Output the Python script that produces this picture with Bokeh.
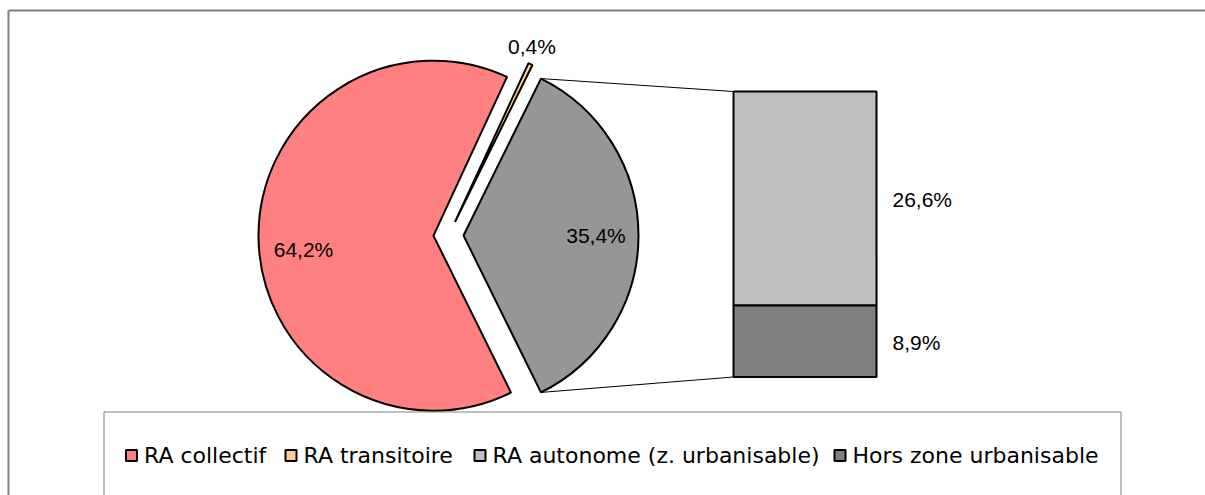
import math
from bokeh.plotting import figure
from bokeh.models import Range1d
from bokeh.core.properties import value
from bokeh.embed import file_html
from bokeh.resources import INLINE

# ---------------- data ----------------
pie_categories = ["RA collectif", "RA transitoire", "RA autonome + Hors zone"]
pie_values = [64.2, 0.4, 35.4]
pie_labels = ["64,2%", "0,4%", "35,4%"]
pie_colors = ["#FF8080", "#FFCC99", "#969696"]

bar_categories = ["RA autonome (z. urbanisable)", "Hors zone urbanisable"]
bar_values = [26.6, 8.9]
bar_labels = ["26,6%", "8,9%"]
bar_colors = ["#C0C0C0", "#808080"]

legend_labels = ["RA collectif", "RA transitoire", "RA autonome (z. urbanisable)", "Hors zone urbanisable"]
legend_colors = ["#FF8080", "#FFCC99", "#C0C0C0", "#808080"]

# ---------------- layout (pixel coordinates, y downward in page space) ----------------
W, H = 1205, 495
CX, CY = 448.0, 235.0
R = 175.0
EXPLODE = 15.0
PIE_LABEL_R = [0.743, 1.1, 0.757]
PIE_LABEL_D = [(0, 12), (-6, -2), (0, 0)]
BAR_LEFT, BAR_RIGHT = 733.0, 876.0
BAR_BOTTOM = 376.5
BAR_HEIGHT = 285.5
LEGEND_X = [131.0, 290.5, 479.5, 839.5]
LEGEND_Y = 455.0
LABEL_FONT = value("Liberation Sans")
LEGEND_FONT = value("DejaVu Sans")

p = figure(width=W, height=H, output_backend="svg", toolbar_location=None,
           x_range=Range1d(0, W), y_range=Range1d(-H, 0),
           x_axis_type=None, y_axis_type=None, min_border=0)
p.grid.visible = False
p.outline_line_color = None
p.background_fill_color = "white"
p.border_fill_color = "white"

def Y(y):
    return -y

# outer chart border (top and left edges visible, rest beyond the window)
p.segment(x0=[8, 8], y0=[Y(10), Y(10)], x1=[5000, 8], y1=[Y(10), Y(5000)],
          line_color="#808080", line_width=2)

# ---------------- pie ----------------
order = [2, 1, 0]  # counterclockwise from the aggregated slice
start = -pie_values[2] / 100.0 * math.pi
slices = {}
for i in order:
    span = pie_values[i] / 100.0 * 2 * math.pi
    a0, a1 = start, start + span
    mid = (a0 + a1) / 2
    ax = CX + EXPLODE * math.cos(mid)
    ay = CY - EXPLODE * math.sin(mid)
    slices[i] = (ax, ay, a0, a1, mid)
    start = a1

for i in [0, 2, 1]:
    ax, ay, a0, a1, mid = slices[i]
    p.wedge(x=[ax], y=[Y(ay)], radius=R, start_angle=[a0], end_angle=[a1],
            fill_color=pie_colors[i], line_color="black", line_width=2)

# pie labels
lx, ly = [], []
for i in range(3):
    ax, ay, a0, a1, mid = slices[i]
    rr = R * PIE_LABEL_R[i]
    lx.append(ax + rr * math.cos(mid) + PIE_LABEL_D[i][0])
    ly.append(Y(ay - rr * math.sin(mid) + PIE_LABEL_D[i][1]))
p.text(x=lx, y=ly, text=pie_labels, text_font=LABEL_FONT, text_font_size="21px",
       text_align="center", text_baseline="alphabetic", text_color="black")

# ---------------- bar ----------------
total = sum(bar_values)
scale = BAR_HEIGHT / total
bottoms, tops = [], []
cur = BAR_BOTTOM
for v in reversed(bar_values):
    bottoms.append(cur)
    tops.append(cur - v * scale)
    cur = cur - v * scale
bottoms = list(reversed(bottoms))
tops = list(reversed(tops))

# connector lines from aggregated slice to bar
ax, ay, a0, a1, mid = slices[2]
top_pt = (ax + R * math.cos(a1), ay - R * math.sin(a1))
bot_pt = (ax + R * math.cos(a0), ay - R * math.sin(a0))
p.segment(x0=[top_pt[0], bot_pt[0]], y0=[Y(top_pt[1]), Y(bot_pt[1])],
          x1=[BAR_LEFT, BAR_LEFT], y1=[Y(tops[0]), Y(bottoms[-1])],
          line_color="black", line_width=1)

p.quad(left=[BAR_LEFT] * 2, right=[BAR_RIGHT] * 2,
       top=[Y(t) for t in tops], bottom=[Y(b) for b in bottoms],
       fill_color=bar_colors, line_color="black", line_width=2)

p.text(x=[BAR_RIGHT + 16] * 2, y=[Y((t + b) / 2) for t, b in zip(tops, bottoms)],
       text=bar_labels, text_font=LABEL_FONT, text_font_size="21px",
       text_align="left", text_baseline="alphabetic", y_offset=1.5, text_color="black")

# ---------------- legend ----------------
p.segment(x0=[103.5, 103.5, 1120.5], y0=[Y(411.5), Y(411.5), Y(411.5)],
          x1=[1120.5, 103.5, 1120.5], y1=[Y(411.5), Y(5000), Y(5000)],
          line_color="#808080", line_width=1)
p.rect(x=LEGEND_X, y=[Y(LEGEND_Y)] * 4, width=11, height=11,
       fill_color=legend_colors, line_color="black", line_width=2)
p.text(x=[x + 12.5 for x in LEGEND_X], y=[Y(LEGEND_Y)] * 4, text=legend_labels,
       text_font=LEGEND_FONT, text_font_size="22px", text_align="left",
       text_baseline="alphabetic", text_color="black")

open("out.html", "w").write(file_html(p, INLINE))
